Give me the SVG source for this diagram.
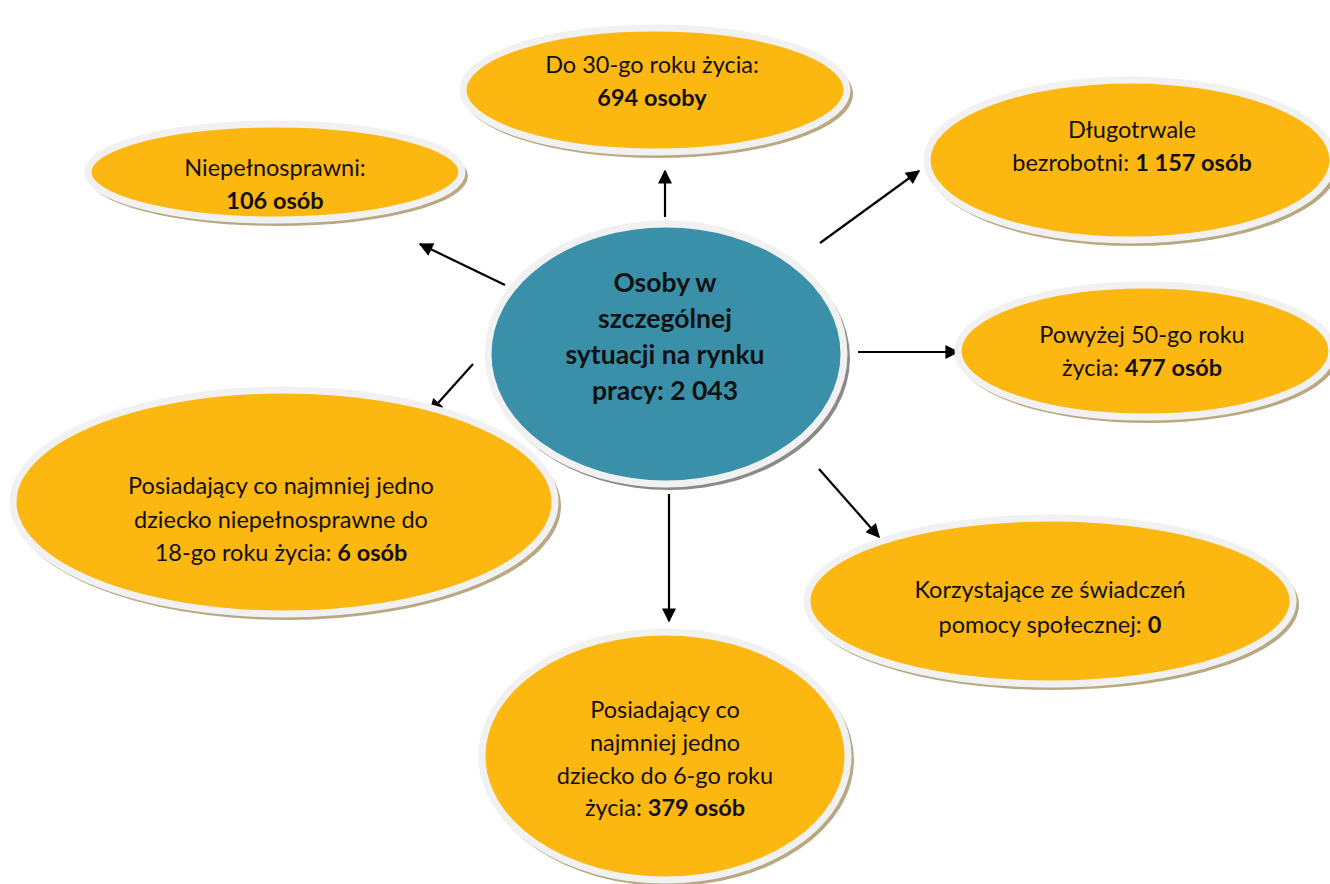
<svg xmlns="http://www.w3.org/2000/svg" width="1330" height="884" viewBox="0 0 1330 884">
<defs>
<style>
.sh{fill:#B9A982;}
.shg{fill:#8A8A8A;}
.o{fill:#FCB711;stroke:#F1F1F1;stroke-width:7;}
.c{fill:#3A90A8;stroke:#F1F1F1;stroke-width:7;}
text{font-family:Lato,"Open Sans","Liberation Sans",sans-serif;font-size:23.5px;fill:#111;text-anchor:middle;}
.b{font-weight:bold;}
.ct{font-weight:bold;font-size:26.5px;}
.ln{stroke:#000;stroke-width:2.2;fill:none;marker-end:url(#ah);}
</style>
<marker id="ah" viewBox="0 0 10 10" refX="9" refY="5" markerUnits="userSpaceOnUse" markerWidth="17" markerHeight="14" orient="auto">
<path d="M0,0 L10,5 L0,10 z" fill="#000"/>
</marker>
</defs>
<rect width="1330" height="884" fill="#fff"/>

<g id="connectors">
<line class="ln" x1="665" y1="217" x2="665" y2="171"/>
<line class="ln" x1="505" y1="285" x2="420" y2="244"/>
<line class="ln" x1="820" y1="243" x2="919" y2="171"/>
<line class="ln" x1="858" y1="352" x2="958" y2="352"/>
<line class="ln" x1="473" y1="364" x2="430" y2="412"/>
<line class="ln" x1="669" y1="494" x2="669" y2="621"/>
<line class="ln" x1="819" y1="469" x2="879" y2="537"/>
</g>

<g id="node-top">
<ellipse class="sh" cx="658" cy="94" rx="195" ry="64"/>
<ellipse class="o" cx="655" cy="90" rx="192" ry="62"/>
<text x="652" y="73">Do 30-go roku życia:</text>
<text x="652" y="106" class="b">694 osoby</text>
</g>

<g id="node-niepelnosprawni">
<ellipse class="sh" cx="278" cy="176" rx="190" ry="50"/>
<ellipse class="o" cx="275" cy="172" rx="187" ry="48"/>
<text x="275" y="176">Niepełnosprawni:</text>
<text x="275" y="209" class="b">106 osób</text>
</g>

<g id="node-dlugotrwale">
<ellipse class="sh" cx="1133" cy="164" rx="206" ry="82"/>
<ellipse class="o" cx="1130" cy="160" rx="203" ry="80"/>
<text x="1132" y="138">Długotrwale</text>
<text x="1132" y="171">bezrobotni: <tspan class="b">1 157 osób</tspan></text>
</g>

<g id="node-powyzej">
<ellipse class="sh" cx="1148" cy="355" rx="190" ry="68"/>
<ellipse class="o" cx="1145" cy="351" rx="187" ry="66"/>
<text x="1142" y="343">Powyżej 50-go roku</text>
<text x="1142" y="376">życia: <tspan class="b">477 osób</tspan></text>
</g>

<g id="node-center">
<ellipse class="shg" cx="669" cy="358" rx="181" ry="132"/>
<ellipse class="c" cx="666" cy="354" rx="178" ry="130"/>
<text x="665" y="292" class="ct">Osoby w</text>
<text x="665" y="328" class="ct">szczególnej</text>
<text x="665" y="364" class="ct">sytuacji na rynku</text>
<text x="665" y="400" class="ct">pracy: 2 043</text>
</g>

<g id="node-dziecko-niepelnosprawne">
<ellipse class="sh" cx="287" cy="506" rx="274" ry="114"/>
<ellipse class="o" cx="284" cy="502" rx="271" ry="112"/>
<text x="281" y="494">Posiadający co najmniej jedno</text>
<text x="281" y="528">dziecko niepełnosprawne do</text>
<text x="281" y="561">18-go roku życia: <tspan class="b">6 osób</tspan></text>
</g>

<g id="node-dziecko-6">
<ellipse class="sh" cx="668" cy="760" rx="186" ry="126"/>
<ellipse class="o" cx="665" cy="756" rx="183" ry="124"/>
<text x="665" y="718">Posiadający co</text>
<text x="665" y="751">najmniej jedno</text>
<text x="665" y="784">dziecko do 6-go roku</text>
<text x="665" y="816">życia: <tspan class="b">379 osób</tspan></text>
</g>

<g id="node-korzystajace">
<ellipse class="sh" cx="1053" cy="605" rx="246" ry="85"/>
<ellipse class="o" cx="1050" cy="601" rx="243" ry="83"/>
<text x="1050" y="598">Korzystające ze świadczeń</text>
<text x="1050" y="633">pomocy społecznej: <tspan class="b">0</tspan></text>
</g>
</svg>
